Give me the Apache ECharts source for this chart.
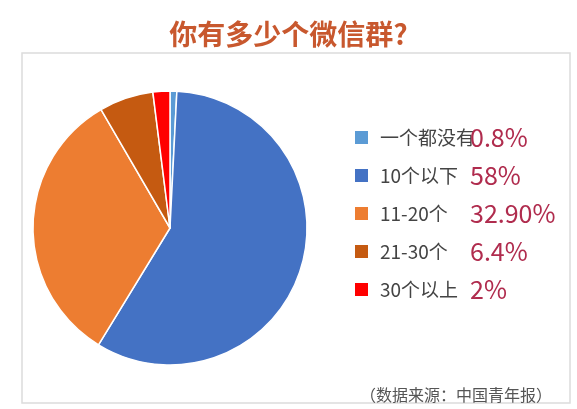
<!DOCTYPE html>
<html>
<head>
<meta charset="utf-8">
<script src="https://cdn.jsdelivr.net/npm/echarts@6/dist/echarts.min.js"></script>
<style>html,body{margin:0;padding:0;background:#fff;}#c{width:577px;height:409px;}</style>
</head>
<body>
<div id="c"></div>
<script>
const categories = ['一个都没有', '10个以下', '11-20个', '21-30个', '30个以上'];
const values = [0.8, 58, 32.9, 6.4, 2];
const pctLabels = ['0.8%', '58%', '32.90%', '6.4%', '2%'];
const colors = ['#5b9bd5', '#4472c4', '#ed7d31', '#c55a11', '#ff0000'];
const titleText = '你有多少个微信群?';
const sourceText = '（数据来源：中国青年报）';

const FONT = '"Noto Sans CJK SC", "Noto Sans", sans-serif';
const chart = echarts.init(document.getElementById('c'), null, {renderer: 'canvas'});
const pctMap = {};
categories.forEach((c, i) => { pctMap[c] = pctLabels[i]; });

chart.setOption({
  animation: false,
  backgroundColor: '#fff',
  title: [{
    text: titleText,
    left: 'center',
    top: 15,
    textStyle: {fontFamily: FONT, fontSize: 28, fontWeight: 'bold', color: '#c8582e'}
  }, {
    text: sourceText,
    left: 355,
    top: 382,
    textStyle: {fontFamily: FONT, fontSize: 16, fontWeight: 'normal', color: '#555'}
  }],
  graphic: [{
    type: 'rect',
    shape: {x: 22, y: 53, width: 548, height: 350},
    style: {fill: 'none', stroke: '#dcdcdc', lineWidth: 1.5},
    silent: true,
    z: -1
  }],
  legend: {
    orient: 'vertical',
    left: 348,
    top: 120,
    itemWidth: 15,
    itemHeight: 15,
    itemGap: 13,
    icon: 'rect',
    selectedMode: false,
    data: categories,
    formatter: function (name) {
      return '{a|' + name + '}{b|' + pctMap[name] + '}';
    },
    textStyle: {
      fontFamily: FONT,
      rich: {
        a: {fontFamily: FONT, fontSize: 19, color: '#444', width: 90, padding: [0, 0, 0, 6], lineHeight: 24},
        b: {fontFamily: FONT, fontSize: 25, color: '#b02c4e', lineHeight: 24}
      }
    }
  },
  series: [{
    type: 'pie',
    center: [170, 228],
    radius: 137,
    startAngle: 90,
    clockwise: true,
    silent: true,
    label: {show: false},
    labelLine: {show: false},
    itemStyle: {borderColor: '#fff', borderWidth: 1.5},
    data: categories.map((c, i) => ({name: c, value: values[i], itemStyle: {color: colors[i]}}))
  }]
});
</script>
</body>
</html>
